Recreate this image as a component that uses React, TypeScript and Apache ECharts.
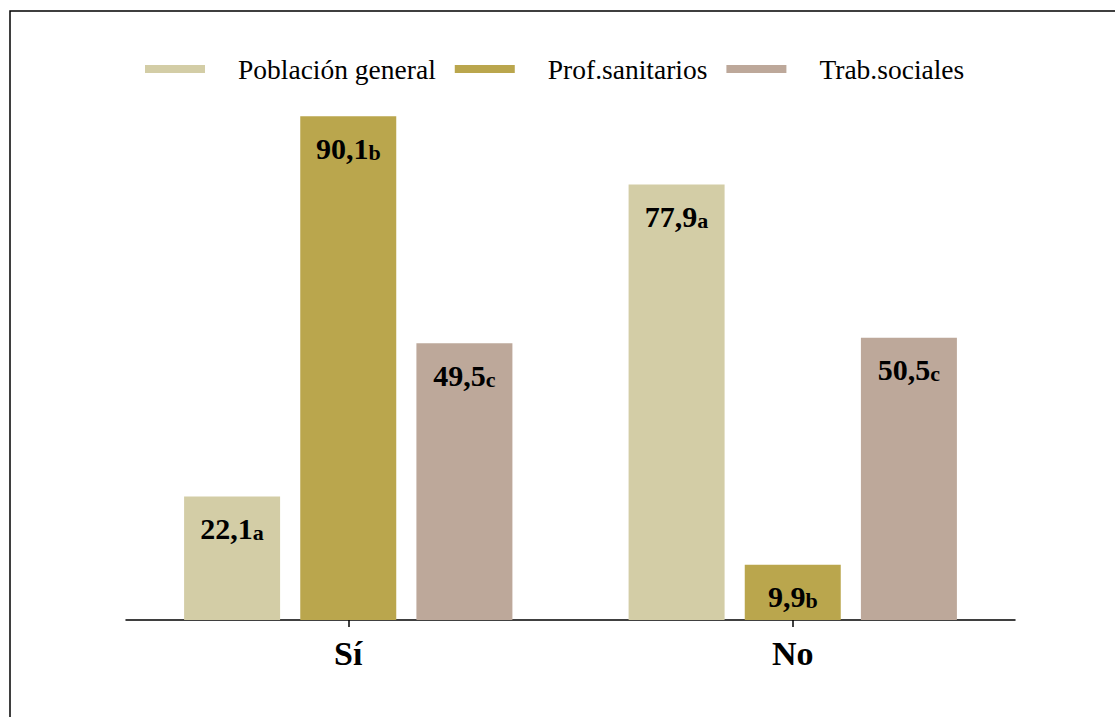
import React, { useEffect, useRef } from "react";
import * as echarts from "echarts";

const categories = ["Sí", "No"];
const seriesNames = ["Población general", "Prof.sanitarios", "Trab.sociales"];
const poblacion = [22.1, 77.9];
const profesionales = [90.1, 9.9];
const trabajadores = [49.5, 50.5];
const letters = [
  ["a", "a"],
  ["b", "b"],
  ["c", "c"],
];
const colors = ["#D3CDA6", "#BAA64D", "#BDA89A"];

export default function App() {
  const ref = useRef<HTMLDivElement>(null);
  useEffect(() => {
    if (!ref.current) return;
    const chart = echarts.init(ref.current, null, { renderer: "svg" });
    const values = [poblacion, profesionales, trabajadores];
    const font = "Liberation Serif";
    chart.setOption({
      animation: false,
      textStyle: { fontFamily: font },
      graphic: [
        {
          type: "rect",
          shape: { x: 10, y: 11, width: 1120, height: 720 },
          style: { fill: "none", stroke: "#000", lineWidth: 1.5 },
          silent: true,
        },
      ],
      legend: {
        left: 140,
        top: 50,
        itemWidth: 60,
        itemHeight: 8,
        itemGap: 19,
        icon: "rect",
        data: seriesNames,
        textStyle: {
          fontFamily: font,
          fontSize: 27.5,
          fontWeight: "normal",
          color: "#000",
          padding: [0, 0, 0, 28],
        },
      },
      grid: { left: 126, right: 100, top: 61, bottom: 97 },
      xAxis: {
        type: "category",
        data: categories,
        axisLine: { show: true, lineStyle: { color: "#000", width: 1.5 } },
        axisTick: {
          show: true,
          alignWithLabel: true,
          length: 7,
          lineStyle: { color: "#000", width: 1.5 },
        },
        axisLabel: {
          fontFamily: font,
          fontSize: 34,
          fontWeight: "bold",
          color: "#000",
          margin: 16,
        },
      },
      yAxis: {
        type: "value",
        min: 0,
        max: 100,
        axisLine: { show: false },
        axisTick: { show: false },
        axisLabel: { show: false },
        splitLine: { show: false },
      },
      series: seriesNames.map((name, i) => ({
        name,
        type: "bar",
        barWidth: 96,
        barGap: "21%",
        itemStyle: { color: colors[i] },
        data: values[i],
        label: {
          show: true,
          position: "insideTop",
          distance: 17,
          formatter: (p: any) =>
            `{n|${String(p.value).replace(".", ",")}}{l|${letters[i][p.dataIndex]}}`,
          rich: {
            n: { fontFamily: font, fontSize: 30, fontWeight: "bold", color: "#000" },
            l: {
              fontFamily: font,
              fontSize: 22,
              fontWeight: "bold",
              color: "#000",
              verticalAlign: "bottom",
            },
          },
        },
      })),
    });
    return () => chart.dispose();
  }, []);
  return <div ref={ref} style={{ width: 1115, height: 717, position: "absolute", left: 0, top: 0 }} />;
}
